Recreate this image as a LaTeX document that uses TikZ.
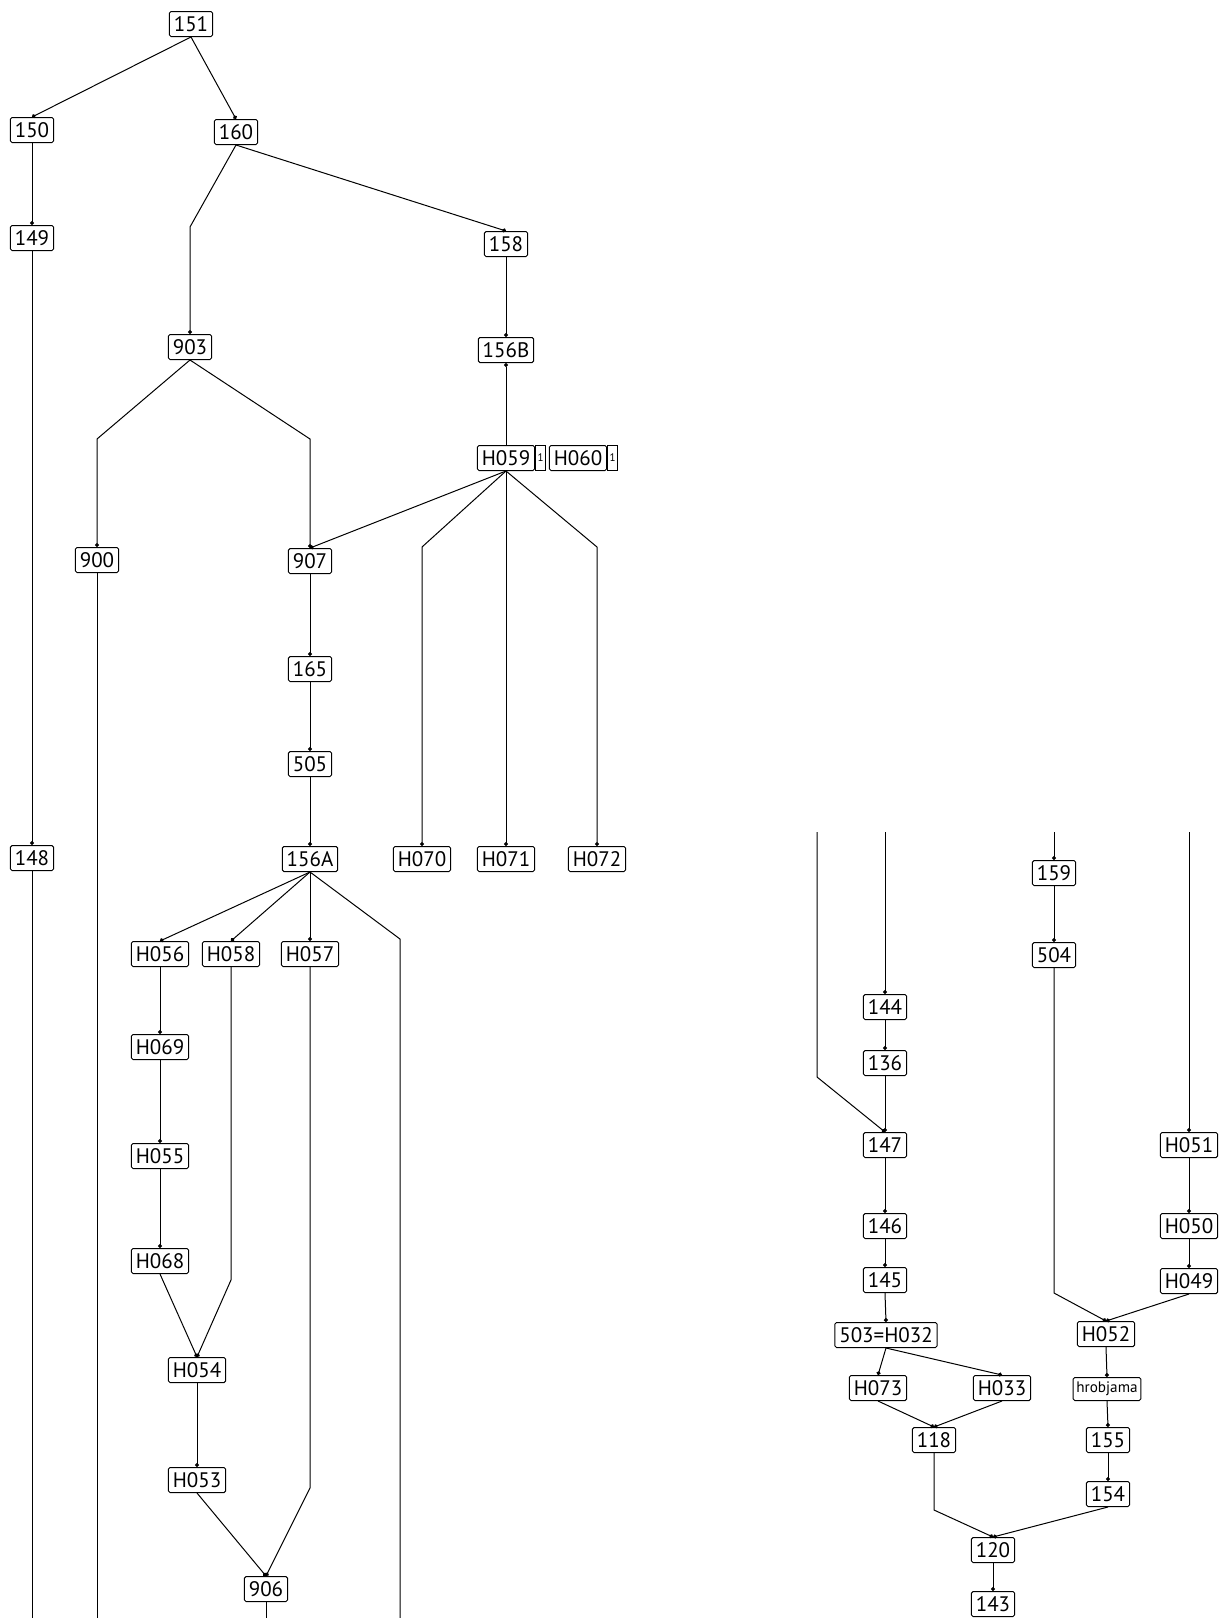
\documentclass[tikz,border=0pt]{standalone}
\usepackage{fontspec}
\setmainfont{PT Sans}
\usetikzlibrary{arrows.meta,positioning}
\tikzset{
  unit/.style={draw,rounded corners=0.8pt,line width=0.5pt,inner xsep=2.2pt,inner ysep=0pt,
    minimum height=12.5pt,font=\fontsize{10.5}{12}\selectfont},
  smallunit/.style={unit,font=\fontsize{7.6}{9}\selectfont,inner xsep=1.6pt,minimum height=11.5pt},
  tag/.style={draw,line width=0.5pt,inner xsep=1pt,inner ysep=0pt,minimum height=12.5pt,
    font=\fontsize{5.5}{6}\selectfont},
  rel/.style={-{Circle[length=2pt]},line width=0.5pt},
  cut/.style={line width=0.5pt}
}

\begin{document}
\begin{tikzpicture}[x=0.5pt,y=-0.5pt]
\useasboundingbox (0,0) rectangle (1223,1618);
% left matrix
\node[unit] (n151) at (191,24) {151};
\node[unit] (n150) at (32,130) {150};
\node[unit] (n160) at (236,132) {160};
\node[unit] (n149) at (32,238) {149};
\node[unit] (n158) at (506,244) {158};
\node[unit] (n903) at (190,347) {903};
\node[unit] (n156B) at (506,350) {156B};
\node[unit] (nH059) at (506,458) {H059};
\node[tag,right=0pt of nH059] (tH059) {1};
\node[unit] (nH060) at (578,458) {H060};
\node[tag,right=0pt of nH060] (tH060) {1};
\node[unit] (n900) at (97,560) {900};
\node[unit] (n907) at (310,561) {907};
\node[unit] (n165) at (310,669) {165};
\node[unit] (n505) at (310,764) {505};
\node[unit] (n148) at (32,858) {148};
\node[unit] (n156A) at (310,859) {156A};
\node[unit] (nH070) at (422,859) {H070};
\node[unit] (nH071) at (506,859) {H071};
\node[unit] (nH072) at (597,859) {H072};
\node[unit] (nH056) at (160,954) {H056};
\node[unit] (nH058) at (231,954) {H058};
\node[unit] (nH057) at (310,954) {H057};
\node[unit] (nH069) at (160,1047) {H069};
\node[unit] (nH055) at (160,1156) {H055};
\node[unit] (nH068) at (160,1261) {H068};
\node[unit] (nH054) at (197,1370) {H054};
\node[unit] (nH053) at (197,1480) {H053};
\node[unit] (n906) at (266,1589) {906};
% loose ends at the bottom
\coordinate (out148) at (n148.south |- 0,1618);
\coordinate (out900) at (n900.south |- 0,1618);
\coordinate (out906) at (n906.south |- 0,1618);
\coordinate (out156A) at (400,1618);

\draw[rel] (n151.south) -- (n150.north);
\draw[rel] (n151.south) -- (n160.north);
\draw[rel] (n150.south) -- (n149.north);
\draw[rel] (n149.south) -- (n148.north);
\draw[cut] (n148.south) -- (out148);
\draw[rel] (n160.south) -- (n903.north |- 0,227) -- (n903.north);
\draw[rel] (n160.south) -- (n158.north);
\draw[rel] (n158.south) -- (n156B.north);
\draw[rel] (nH059.north) -- (n156B.south);
\draw[rel] (n903.south) -- (n900.north |- 0,439) -- (n900.north);
\draw[rel] (n903.south) -- (n907.north |- 0,439) -- (n907.north);
\draw[cut] (n900.south) -- (out900);
\draw[rel] (nH059.south) -- (n907.north);
\draw[rel] (nH059.south) -- (nH070.north |- 0,547) -- (nH070.north);
\draw[rel] (nH059.south) -- (nH071.north);
\draw[rel] (nH059.south) -- (nH072.north |- 0,547) -- (nH072.north);
\draw[rel] (n907.south) -- (n165.north);
\draw[rel] (n165.south) -- (n505.north);
\draw[rel] (n505.south) -- (n156A.north);
\draw[rel] (n156A.south) -- (nH056.north);
\draw[rel] (n156A.south) -- (nH058.north);
\draw[rel] (n156A.south) -- (nH057.north);
\draw[cut] (n156A.south) -- (out156A |- 0,939) -- (out156A);
\draw[rel] (nH056.south) -- (nH069.north);
\draw[rel] (nH069.south) -- (nH055.north);
\draw[rel] (nH055.south) -- (nH068.north);
\draw[rel] (nH068.south) -- (nH054.north);
\draw[rel] (nH058.south) -- (nH058.south |- 0,1280) -- (nH054.north);
\draw[rel] (nH054.south) -- (nH053.north);
\draw[rel] (nH053.south) -- (n906.north);
\draw[rel] (nH057.south) -- (nH057.south |- 0,1488) -- (n906.north);
\draw[cut] (n906.south) -- (out906);

% right matrix
\node[unit] (n159) at (1054,873) {159};
\node[unit] (n504) at (1054,955) {504};
\node[unit] (n144) at (885,1007) {144};
\node[unit] (n136) at (885,1063) {136};
\node[unit] (n147) at (885,1145) {147};
\node[unit] (nH051) at (1189,1145) {H051};
\node[unit] (n146) at (885,1226) {146};
\node[unit] (nH050) at (1189,1226) {H050};
\node[unit] (n145) at (885,1280) {145};
\node[unit] (nH049) at (1189,1281) {H049};
\node[unit] (n503) at (886,1335) {503=H032};
\node[unit] (nH052) at (1106,1334) {H052};
\node[unit] (nH073) at (878,1388) {H073};
\node[unit] (nH033) at (1002,1388) {H033};
\node[smallunit] (nhrob) at (1107,1389) {hrobjama};
\node[unit] (n118) at (934,1440) {118};
\node[unit] (n155) at (1108,1440) {155};
\node[unit] (n154) at (1108,1494) {154};
\node[unit] (n120) at (993,1550) {120};
\node[unit] (n143) at (993,1604) {143};
% loose ends at the top
\coordinate (inA) at (817,832);
\coordinate (inB) at (n144.north |- 0,832);
\coordinate (inC) at (n159.north |- 0,832);
\coordinate (inD) at (nH051.north |- 0,832);

\draw[rel] (inA) -- (inA |- 0,1077) -- (n147.north);
\draw[rel] (inB) -- (n144.north);
\draw[rel] (n144.south) -- (n136.north);
\draw[rel] (n136.south) -- (n147.north);
\draw[rel] (n147.south) -- (n146.north);
\draw[rel] (n146.south) -- (n145.north);
\draw[rel] (n145.south) -- (n503.north);
\draw[rel] (n503.south) -- (nH073.north);
\draw[rel] (n503.south) -- (nH033.north);
\draw[rel] (nH073.south) -- (n118.north);
\draw[rel] (nH033.south) -- (n118.north);
\draw[rel] (n118.south) -- (n118.south |- 0,1510) -- (n120.north);
\draw[rel] (inC) -- (n159.north);
\draw[rel] (n159.south) -- (n504.north);
\draw[rel] (n504.south) -- (n504.south |- 0,1293) -- (nH052.north);
\draw[rel] (inD) -- (nH051.north);
\draw[rel] (nH051.south) -- (nH050.north);
\draw[rel] (nH050.south) -- (nH049.north);
\draw[rel] (nH049.south) -- (nH052.north);
\draw[rel] (nH052.south) -- (nhrob.north);
\draw[rel] (nhrob.south) -- (n155.north);
\draw[rel] (n155.south) -- (n154.north);
\draw[rel] (n154.south) -- (n120.north);
\draw[rel] (n120.south) -- (n143.north);
\end{tikzpicture}
\end{document}
